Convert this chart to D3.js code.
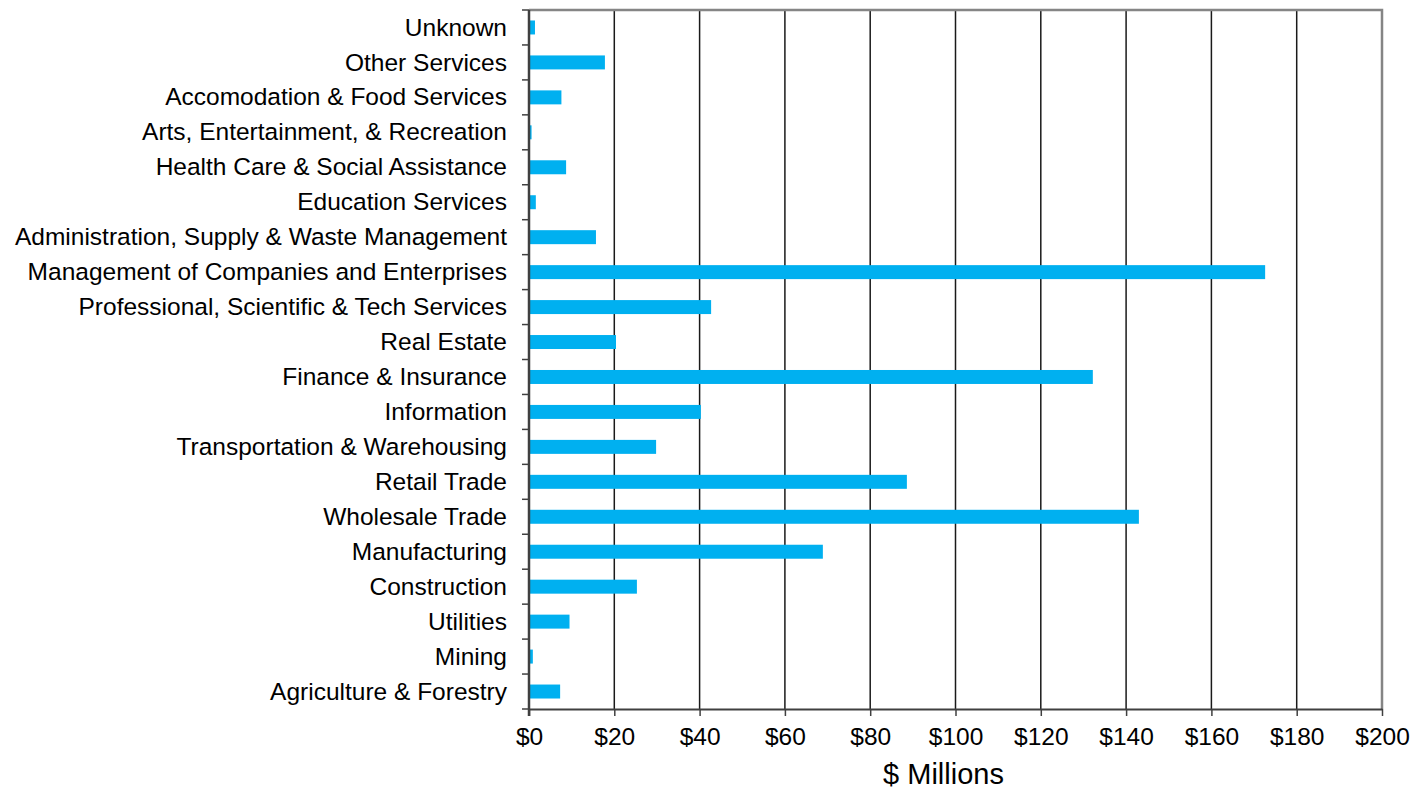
<!DOCTYPE html>
<html>
<head>
<meta charset="utf-8">
<script src="https://cdn.jsdelivr.net/npm/d3@7"></script>
<style>
  body { margin: 0; background: #fff; }
  text { font-family: "Liberation Sans", Arial, sans-serif; fill: #000; }
</style>
</head>
<body>
<div id="chart"></div>
<script>
// industries, top to bottom as drawn
const industries = [
  "Unknown", "Other Services", "Accomodation & Food Services",
  "Arts, Entertainment, & Recreation", "Health Care & Social Assistance",
  "Education Services", "Administration, Supply & Waste Management",
  "Management of Companies and Enterprises", "Professional, Scientific & Tech Services",
  "Real Estate", "Finance & Insurance", "Information", "Transportation & Warehousing",
  "Retail Trade", "Wholesale Trade", "Manufacturing", "Construction", "Utilities",
  "Mining", "Agriculture & Forestry"
];
// $ millions
const values = [
  1.4, 17.8, 7.6, 0.6, 8.7, 1.6, 15.7, 172.6, 42.7, 20.4,
  132.2, 40.3, 29.8, 88.6, 143.0, 68.9, 25.3, 9.5, 0.9, 7.3
];
const xTicks = [0, 20, 40, 60, 80, 100, 120, 140, 160, 180, 200];

const width = 1417, height = 792;
const margin = { top: 10, right: 35, bottom: 83, left: 529 };
const innerW = width - margin.left - margin.right;
const innerH = height - margin.top - margin.bottom;

const svg = d3.select("#chart").append("svg")
  .attr("width", width)
  .attr("height", height);

const g = svg.append("g")
  .attr("transform", `translate(${margin.left},${margin.top})`);

const x = d3.scaleLinear().domain([0, 200]).range([0, innerW]);
const y = d3.scaleBand().domain(industries).range([0, innerH]).paddingInner(0.6).paddingOuter(0.3);
const band = innerH / industries.length;

// vertical gridlines
g.selectAll("line.grid")
  .data(xTicks.slice(1, -1))
  .join("line")
  .attr("class", "grid")
  .attr("x1", d => x(d)).attr("x2", d => x(d))
  .attr("y1", 0).attr("y2", innerH)
  .attr("stroke", "#1a1a1a")
  .attr("stroke-width", 1.5);

// top and right frame
g.append("path")
  .attr("d", `M0,0H${innerW}V${innerH}`)
  .attr("fill", "none")
  .attr("stroke", "#858585")
  .attr("stroke-width", 2.5);

// bars
g.selectAll("rect.bar")
  .data(values)
  .join("rect")
  .attr("class", "bar")
  .attr("x", 0)
  .attr("y", (d, i) => y(industries[i]))
  .attr("width", d => x(d))
  .attr("height", y.bandwidth())
  .attr("fill", "#00B0F0");

// x axis
const xAxis = g.append("g")
  .attr("transform", `translate(0,${innerH})`)
  .call(d3.axisBottom(x).tickValues(xTicks).tickFormat(d => "$" + d).tickSize(7).tickSizeOuter(0));
xAxis.select(".domain").attr("stroke", "#404040").attr("stroke-width", 2);
xAxis.selectAll(".tick line").attr("stroke", "#404040").attr("stroke-width", 1.5);
xAxis.selectAll(".tick text")
  .attr("y", 19)
  .attr("dy", "0.71em")
  .style("font-size", "24.5px")
  .style("font-family", "'Liberation Sans', Arial, sans-serif");

// y axis: ticks at band boundaries
const yAxis = g.append("g");
yAxis.append("line")
  .attr("x1", 0).attr("x2", 0)
  .attr("y1", 0).attr("y2", innerH + 7)
  .attr("stroke", "#404040")
  .attr("stroke-width", 2.5);
yAxis.selectAll("line.ytick")
  .data(d3.range(industries.length + 1))
  .join("line")
  .attr("class", "ytick")
  .attr("x1", -7).attr("x2", 0)
  .attr("y1", i => i * band).attr("y2", i => i * band)
  .attr("stroke", "#404040")
  .attr("stroke-width", 1.5);
yAxis.selectAll("text.ylabel")
  .data(industries)
  .join("text")
  .attr("class", "ylabel")
  .attr("x", -22)
  .attr("y", d => y(d) + y.bandwidth() / 2)
  .attr("dy", "0.33em")
  .attr("text-anchor", "end")
  .style("font-size", "24.5px")
  .text(d => d);

// x axis title
svg.append("text")
  .attr("x", margin.left + innerW / 2 - 12)
  .attr("y", 784)
  .attr("text-anchor", "middle")
  .style("font-size", "29px")
  .text("$ Millions");
</script>
</body>
</html>
